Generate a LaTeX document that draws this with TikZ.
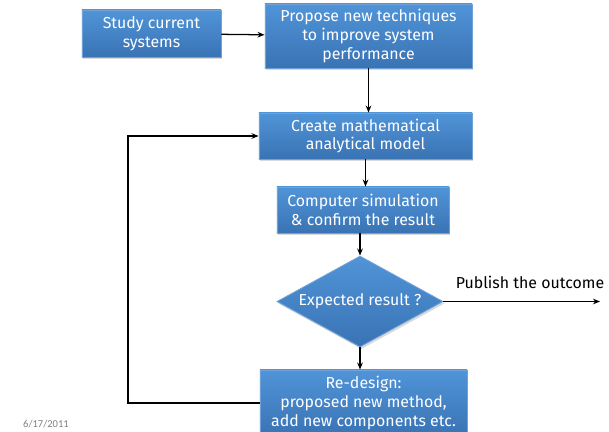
\documentclass[tikz,border=0pt]{standalone}
\usepackage{fontspec}
\setmainfont{Fira Sans}
\newfontfamily\datefont{Carlito}
\usetikzlibrary{shapes.geometric, arrows.meta, shadows}

\definecolor{boxtop}{RGB}{80,148,216}
\definecolor{boxbot}{RGB}{57,115,180}
\definecolor{boxline}{RGB}{112,162,218}

\begin{document}
\begin{tikzpicture}[x=0.025cm,y=-0.025cm,>={Stealth[length=5pt,width=4pt]},line width=0.9pt]
  \tikzstyle{block}=[rectangle, draw=boxline, line width=0.6pt, top color=boxtop, bottom color=boxbot, text=white, align=center, inner sep=0pt, font=\fontsize{11.3}{13.5}\selectfont, drop shadow={opacity=0.3, shadow xshift=1pt, shadow yshift=-1.5pt}]
  \tikzstyle{decision}=[diamond, aspect=1.8, draw=boxline, line width=0.6pt, top color=boxtop, bottom color=boxbot, text=white, inner sep=0pt, font=\fontsize{11.3}{13.5}\selectfont, drop shadow={opacity=0.3, shadow xshift=1pt, shadow yshift=-1.5pt}]
  \useasboundingbox (0,0) rectangle (609,432);

  \node[block, minimum width=3.475cm, minimum height=1.175cm] (study) at (151.5,33.5) {Study current\\systems};
  \node[block, minimum width=5.175cm, minimum height=1.6cm] (propose) at (368.5,36) {Propose new techniques\\to improve system\\performance};
  \node[block, minimum width=5.325cm, minimum height=1.15cm] (create) at (365.5,136) {Create mathematical\\analytical model};
  \node[block, minimum width=4.3cm, minimum height=1.15cm] (sim) at (363,210) {Computer simulation\\\& confirm the result};
  \node[decision, minimum width=4.15cm, minimum height=2.275cm] (test) at (360,301.5) {Expected result ?};
  \node[block, minimum width=5.175cm, minimum height=1.65cm] (redesign) at (363.5,403) {Re-design:\\proposed new method,\\add new components etc.};

  \node[font=\fontsize{11.3}{13.5}\selectfont] (publish) at (530,282) {Publish the outcome};
  \coordinate (out) at (600,301.5);
  \coordinate (loop) at (128,270);
  \node[text=gray, font=\datefont\fontsize{7.5}{9}\selectfont] (date) at (46,424) {6/17/2011};

  \draw[->] (study) -- (propose);
  \draw[->] (propose.south) -- (propose.south |- create.north);
  \draw[->] (create.south) -- (create.south |- sim.north);
  \draw[->] (test.north |- sim.south) -- (test.north);
  \draw[->] (test.south) -- (test.south |- redesign.north);
  \draw[->] (test.east) -- (out);
  \draw[->] (redesign.west) -| (loop) |- (create.west);
\end{tikzpicture}
\end{document}
